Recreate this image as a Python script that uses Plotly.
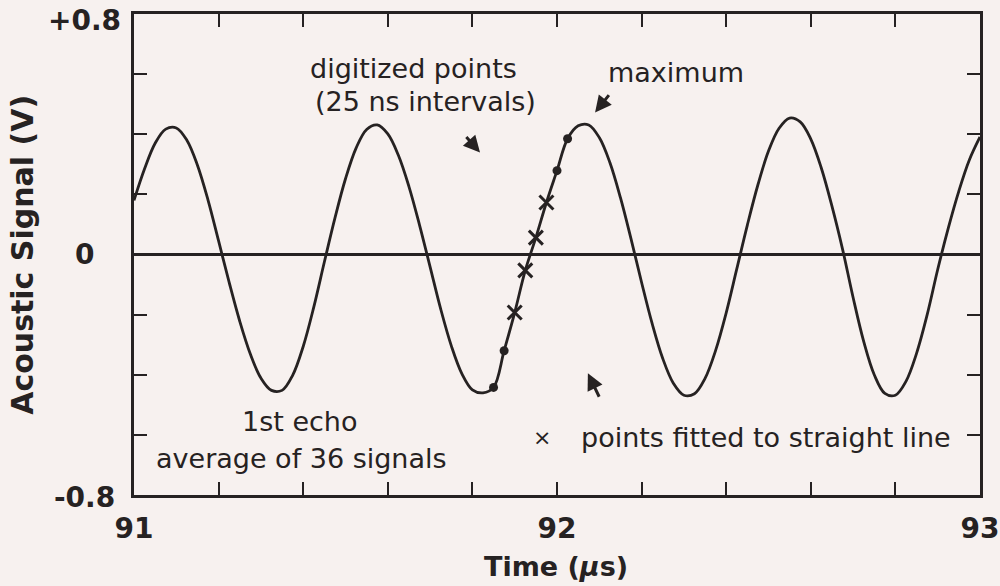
import plotly.graph_objects as go

# ---------------- data ----------------
time_us = [
    91.000, 91.025, 91.050, 91.075, 91.100, 91.125, 91.150, 91.175, 91.200, 91.225,
    91.250, 91.275, 91.300, 91.325, 91.350, 91.375, 91.400, 91.425, 91.450, 91.475,
    91.500, 91.525, 91.550, 91.575, 91.600, 91.625, 91.650, 91.675, 91.700, 91.725,
    91.750, 91.775, 91.800, 91.825, 91.850, 91.875, 91.900, 91.925, 91.950, 91.975,
    92.000, 92.025, 92.050, 92.075, 92.100, 92.125, 92.150, 92.175, 92.200, 92.225,
    92.250, 92.275, 92.300, 92.325, 92.350, 92.375, 92.400, 92.425, 92.450, 92.475,
    92.500, 92.525, 92.550, 92.575, 92.600, 92.625, 92.650, 92.675, 92.700, 92.725,
    92.750, 92.775, 92.800, 92.825, 92.850, 92.875, 92.900, 92.925, 92.950, 92.975,
    93.000,
]
signal_v = [
    0.180, 0.285, 0.370, 0.417, 0.421, 0.380, 0.297, 0.181, 0.045, -0.093,
    -0.222, -0.331, -0.411, -0.452, -0.452, -0.402, -0.306, -0.175, -0.025, 0.121,
    0.252, 0.354, 0.416, 0.431, 0.401, 0.330, 0.226, 0.098, -0.041, -0.181,
    -0.303, -0.396, -0.450, -0.460, -0.442, -0.320, -0.193, -0.053, 0.056, 0.173,
    0.279, 0.385, 0.428, 0.431, 0.389, 0.306, 0.189, 0.052, -0.093, -0.230,
    -0.346, -0.428, -0.468, -0.463, -0.412, -0.319, -0.194, -0.048, 0.098, 0.232,
    0.344, 0.420, 0.454, 0.441, 0.384, 0.287, 0.161, 0.018, -0.143, -0.289,
    -0.400, -0.462, -0.468, -0.422, -0.329, -0.201, -0.050, 0.088, 0.211, 0.315,
    0.391,
]
digitized_idx = [34, 35, 40, 41]      # plotted as dots
fitted_idx = [36, 37, 38, 39]         # plotted as crosses

x_ticks = [91.0, 91.2, 91.4, 91.6, 91.8, 92.0, 92.2, 92.4, 92.6, 92.8, 93.0]
x_ticktext = ["91", "", "", "", "", "92", "", "", "", "", "93"]
y_ticks = [-0.8, -0.6, -0.4, -0.2, 0.0, 0.2, 0.4, 0.6, 0.8]
y_labels = {0.8: "+0.8", 0.0: "0", -0.8: "-0.8"}

# ---------------- style ----------------
INK = "#262222"
BG = "#f7f1ef"
FONT = "DejaVu Sans"

fig = go.Figure()
fig.add_trace(go.Scatter(
    x=time_us, y=signal_v, mode="lines",
    line=dict(color=INK, width=2.8, shape="spline", smoothing=1.0),
    hoverinfo="skip"))
fig.add_trace(go.Scatter(
    x=[time_us[i] for i in digitized_idx], y=[signal_v[i] for i in digitized_idx],
    mode="markers", marker=dict(symbol="circle", size=9, color=INK)))
fig.add_trace(go.Scatter(
    x=[time_us[i] for i in fitted_idx], y=[signal_v[i] for i in fitted_idx],
    mode="markers",
    marker=dict(symbol="x-thin", size=14, color=INK, line=dict(width=3, color=INK))))

fig.update_layout(
    width=1000, height=586,
    margin=dict(l=134, r=20, t=14, b=91),
    paper_bgcolor=BG, plot_bgcolor=BG,
    showlegend=False,
    font=dict(family=FONT, color=INK),
)
fig.update_xaxes(
    range=[91, 93], tickvals=x_ticks, ticktext=x_ticktext,
    ticks="inside", ticklen=13, tickwidth=2, tickcolor=INK,
    showline=True, linewidth=2.5, linecolor=INK, mirror="ticks",
    showgrid=False, zeroline=False, automargin=False,
    tickfont=dict(family=FONT, size=28, color=INK, weight="bold"),
    ticklabelstandoff=7,
)
fig.update_yaxes(
    range=[-0.8, 0.8], tickvals=y_ticks, showticklabels=False,
    ticks="inside", ticklen=13, tickwidth=2, tickcolor=INK,
    showline=True, linewidth=2.5, linecolor=INK, mirror="ticks",
    showgrid=False, zeroline=True, zerolinewidth=2.5, zerolinecolor=INK,
    automargin=False,
)

ann = []
# y tick labels (centred, as in the reference)
for val, txt in y_labels.items():
    shift = -6 if val > 0 else (-2 if val < 0 else 0)
    ann.append(dict(x=-0.058, xref="paper", y=val, yref="y", text=txt, showarrow=False,
                    xanchor="center", yanchor="middle", yshift=shift,
                    font=dict(family=FONT, size=28, color=INK, weight="bold")))
# axis titles
ann.append(dict(x=0.499, xref="paper", y=-0.148, yref="paper", text="Time (<i>µ</i>s)",
                showarrow=False, xanchor="center", yanchor="middle",
                font=dict(family=FONT, size=27, color=INK, weight="bold")))
ann.append(dict(x=-0.132, xref="paper", y=0.5, yref="paper", text="Acoustic Signal (V)",
                textangle=-90, showarrow=False, xanchor="center", yanchor="middle",
                font=dict(family=FONT, size=30, color=INK, weight="bold")))

tf = dict(family=FONT, size=27, color=INK)
texts = [
    ("digitized points", 91.660, 0.618),
    ("(25 ns intervals)", 91.690, 0.508),
    ("maximum", 92.281, 0.605),
    ("1st echo", 91.392, -0.555),
    ("average of 36 signals", 91.397, -0.678),
    ("points fitted to straight line", 92.494, -0.608),
]
for t, x, y in texts:
    ann.append(dict(x=x, y=y, xref="x", yref="y", text=t, showarrow=False,
                    xanchor="center", yanchor="middle", font=tf))
ann.append(dict(x=91.965, y=-0.608, xref="x", yref="y", text="×", showarrow=False,
                xanchor="center", yanchor="middle",
                font=dict(family=FONT, size=22, color=INK)))

# arrows: head position in data coords, tail offset in px
arrows = [(91.818, 0.339, -15, -17), (92.090, 0.472, 15, -19), (92.073, -0.395, 12, 25)]
for x, y, ax, ay in arrows:
    ann.append(dict(x=x, y=y, xref="x", yref="y", ax=ax, ay=ay, text="",
                    showarrow=True, arrowhead=2, arrowsize=1.1, arrowwidth=3,
                    arrowcolor=INK))

fig.update_layout(annotations=ann)
fig.write_html(
    "out.html",
    config={"displayModeBar": False},
    post_script="document.body.style.margin='0';document.body.style.background='%s';" % BG,
)
